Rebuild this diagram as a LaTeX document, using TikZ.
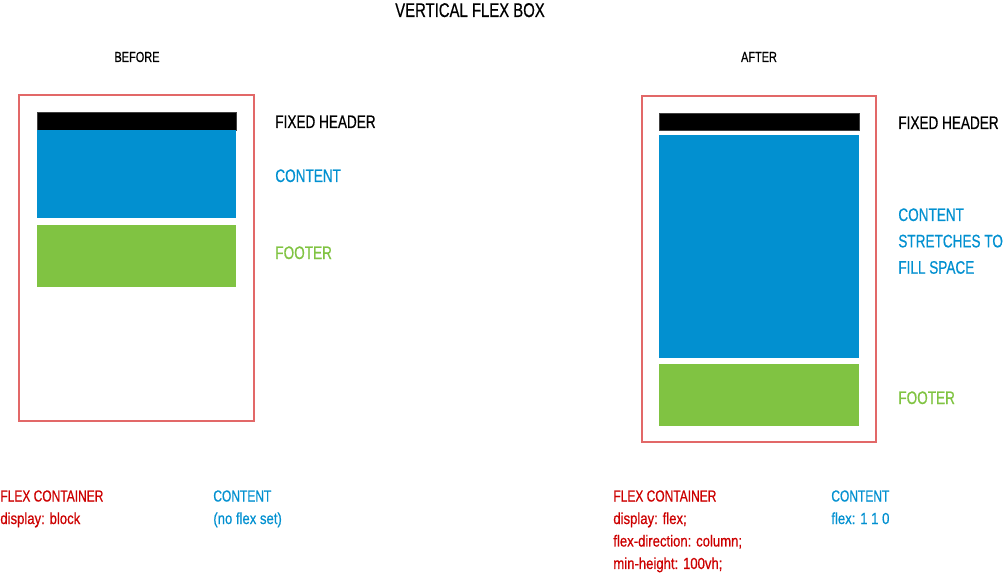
\documentclass[tikz,border=0pt]{standalone}
\usepackage{fontspec}
\setmainfont[FakeStretch=0.75,FakeBold=0.6]{Liberation Sans}
\newfontfamily\codefont[FakeStretch=0.82,FakeBold=0.6]{Liberation Sans}
\definecolor{flexred}{RGB}{204,0,0}
\definecolor{boxred}{RGB}{226,104,104}
\definecolor{flexblue}{RGB}{2,144,208}
\definecolor{flexgreen}{RGB}{128,195,66}

\begin{document}
\begin{tikzpicture}[x=0.02cm,y=-0.02cm,
    container/.style={draw=boxred,line width=1.1pt},
    headbar/.style={fill=black,draw=black!75},
    contentbox/.style={fill=flexblue},
    footerbox/.style={fill=flexgreen},
    lbl/.style={anchor=base west,inner sep=0pt,align=left,
      font=\fontsize{10.3}{15}\selectfont},
    note/.style={anchor=north west,inner sep=0pt,align=left,
      font=\fontsize{9.1}{12.8}\selectfont}]
    \useasboundingbox (0,0) rectangle (1004,574);

    % Headings
    \node[anchor=base,inner sep=0pt,font=\fontsize{11.3}{13}\selectfont] (title) at (470,17) {VERTICAL FLEX BOX};
    \node[anchor=base,inner sep=0pt,font=\fontsize{8.3}{10}\selectfont] (before) at (137,62) {BEFORE};
    \node[anchor=base,inner sep=0pt,font=\fontsize{8.3}{10}\selectfont] (after) at (759,62) {AFTER};

    % Before: block container
    \draw[container] (19,95) rectangle (254,421);
    \draw[headbar] (37,112) rectangle (236,130);
    \fill[contentbox] (37,130) rectangle (236,218);
    \fill[footerbox] (37,225) rectangle (236,287);
    \node[lbl] (hdrA) at (275,128) {FIXED HEADER};
    \node[lbl,text=flexblue] (cntA) at (275,182) {CONTENT};
    \node[lbl,text=flexgreen] (ftrA) at (275,259) {FOOTER};

    % After: flex container
    \draw[container] (642,96) rectangle (876,442);
    \draw[headbar] (659,113) rectangle (859,130);
    \fill[contentbox] (659,135) rectangle (859,358);
    \fill[footerbox] (659,364) rectangle (859,426);
    \node[lbl] (hdrB) at (898,129) {FIXED HEADER};
    \node[lbl,anchor=north west,text=flexblue] (cntB) at (898,208) {CONTENT\\STRETCHES TO\\FILL SPACE};
    \node[lbl,text=flexgreen] (ftrB) at (898,404) {FOOTER};

    % Notes
    \node[note,text=flexred] (cssA) at (0,490) {FLEX CONTAINER\\\codefont display: block};
    \node[note,text=flexblue] (flexA) at (213,490) {CONTENT\\\codefont (no flex set)};
    \node[note,text=flexred] (cssB) at (613,490) {FLEX CONTAINER\\\codefont display: flex;\\\codefont flex-direction: column;\\\codefont min-height: 100vh;};
    \node[note,text=flexblue] (flexB) at (831,490) {CONTENT\\\codefont flex: 1 1 0};
\end{tikzpicture}
\end{document}
